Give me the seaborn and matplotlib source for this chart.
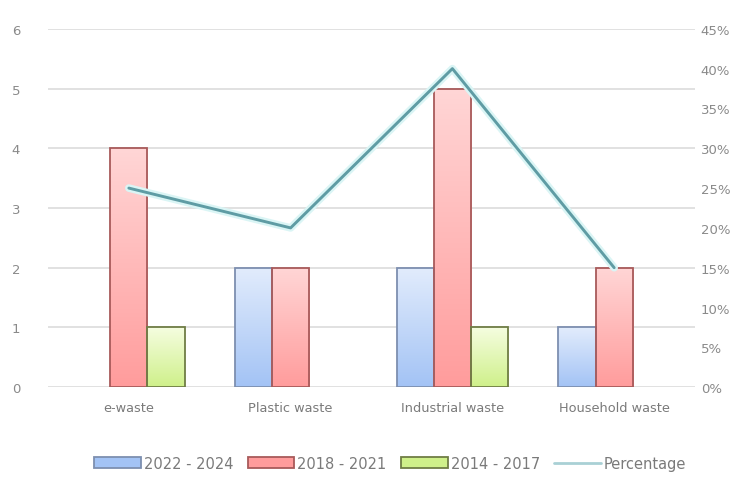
import numpy as np
import pandas as pd
import matplotlib
matplotlib.use("Agg")
import matplotlib.pyplot as plt
import matplotlib.patheffects as pe
from matplotlib.colors import LinearSegmentedColormap
from matplotlib.patches import Patch
from matplotlib.lines import Line2D
import seaborn as sns

categories = ["e-waste", "Plastic waste", "Industrial waste", "Household waste"]
series_names = ["2022 - 2024", "2018 - 2021", "2014 - 2017"]
s_2022_2024 = [np.nan, 2, 2, 1]
s_2018_2021 = [4, 2, 5, 2]
s_2014_2017 = [1, np.nan, 1, np.nan]
percentage = [25, 20, 40, 15]
left_ticks = [0, 1, 2, 3, 4, 5, 6]
right_ticks = [0, 5, 10, 15, 20, 25, 30, 35, 40, 45]

fills = {
    "2022 - 2024": ("#e2ecfc", "#a3c3f5", "#7d8fb0"),
    "2018 - 2021": ("#ffd6d6", "#ff9c9c", "#a85a5a"),
    "2014 - 2017": ("#f5fde0", "#cff08a", "#6f7d45"),
}

rows = []
for name, vals in zip(series_names, [s_2022_2024, s_2018_2021, s_2014_2017]):
    for c, v in zip(categories, vals):
        rows.append({"category": c, "series": name, "value": v})
df = pd.DataFrame(rows)

sns.set_theme(style="white")
plt.rcParams["font.family"] = ["DejaVu Sans"]

fig = plt.figure(figsize=(7.49, 4.81), dpi=100)
ax = fig.add_axes([0.064, 0.193, 0.864, 0.745])

palette = {k: v[1] for k, v in fills.items()}
sns.barplot(data=df, x="category", y="value", hue="series", order=categories,
            hue_order=series_names, palette=palette, width=0.69, ax=ax,
            errorbar=None, legend=False, saturation=1)

for container, name in zip(ax.containers, series_names):
    top, bot, edge = fills[name]
    cmap = LinearSegmentedColormap.from_list(name, [bot, top])
    grad = np.linspace(0, 1, 256).reshape(-1, 1)
    for patch in container.patches:
        h = patch.get_height()
        if not np.isfinite(h) or h == 0:
            continue
        x0 = patch.get_x(); w = patch.get_width()
        patch.set_facecolor("none")
        patch.set_edgecolor(edge)
        patch.set_linewidth(1.3)
        patch.set_zorder(3)
        im = ax.imshow(grad, cmap=cmap, aspect="auto", origin="lower",
                       extent=[x0, x0 + w, 0, h], zorder=2, interpolation="bicubic")
        im.set_clip_path(patch)

ax.set_xlim(-0.5, 3.5)
ax.set_ylim(0, 6)
ax.set_yticks(left_ticks)
ax.yaxis.grid(True, color="#d9d9d9", linewidth=1.1)
ax.set_axisbelow(True)
ax.set_xlabel("")
ax.set_ylabel("")
for s in ax.spines.values():
    s.set_visible(False)
ax.tick_params(axis="y", length=0, pad=20, labelsize=9.5, labelcolor="#8a8a8a")
ax.tick_params(axis="x", length=0, pad=10, labelsize=9.3, labelcolor="#7a7a7a")

ax2 = ax.twinx()
ax2.plot(np.arange(len(categories)), percentage, color="#5f9ca4", linewidth=2.1,
         zorder=5,
         path_effects=[pe.Stroke(linewidth=5.5, foreground="#daf5f5"), pe.Normal()])
ax2.set_ylim(0, 45)
ax2.set_yticks(right_ticks)
ax2.set_yticklabels([f"{t}%" for t in right_ticks])
for s in ax2.spines.values():
    s.set_visible(False)
ax2.tick_params(axis="y", length=0, pad=4, labelsize=9.5, labelcolor="#8a8a8a")
ax2.grid(False)

handles = [Patch(facecolor=fills[n][1], edgecolor=fills[n][2], linewidth=1.3) for n in series_names]
handles.append(Line2D([], [], color="#a9d0d5", linewidth=2))
fig.legend(handles, series_names + ["Percentage"], loc="center", bbox_to_anchor=(0.521, 0.035),
           ncol=4, frameon=False, fontsize=10.5, handlelength=3.2, handleheight=0.7,
           handletextpad=0.2, columnspacing=1.0, labelcolor="#7a7a7a")

fig.savefig("out.png", dpi=100, facecolor="white")
